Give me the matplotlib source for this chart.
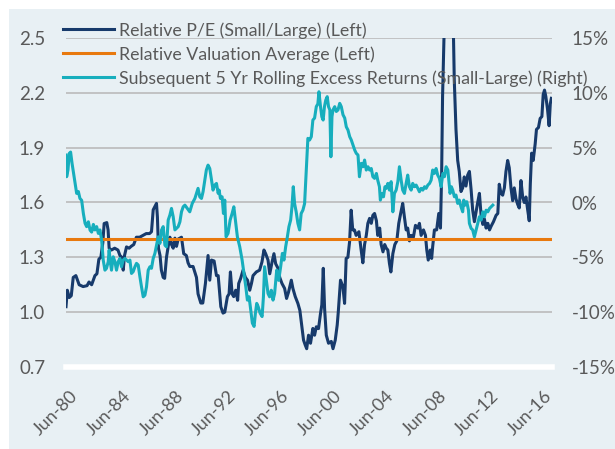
import numpy as np
import matplotlib
matplotlib.use('Agg')
import matplotlib.pyplot as plt
import matplotlib.transforms as mtransforms
from matplotlib.patches import Rectangle
from matplotlib.ticker import FuncFormatter

# 相对市盈率 (小盘/大盘), 左轴
pe_dates = [1980.5, 1980.6, 1980.75, 1980.9, 1981.05, 1981.25, 1981.5, 1981.8, 1982.1, 1982.25,
            1982.45, 1982.7, 1982.85, 1983.0, 1983.15, 1983.3, 1983.4, 1983.6, 1983.7, 1983.78,
            1983.95, 1984.2, 1984.45, 1984.6, 1984.75, 1984.85, 1984.95, 1985.1, 1985.3, 1985.45,
            1985.65, 1985.85, 1986.1, 1986.35, 1986.6, 1986.85, 1987.0, 1987.13, 1987.38, 1987.45,
            1987.53, 1987.65, 1987.75, 1987.89, 1988.0, 1988.14, 1988.27, 1988.4, 1988.52, 1988.65,
            1988.78, 1988.9, 1989.03, 1989.28, 1989.45, 1989.65, 1989.78, 1989.91, 1990.16, 1990.42,
            1990.54, 1990.75, 1990.9, 1991.1, 1991.3, 1991.43, 1991.56, 1991.76, 1991.94, 1992.07,
            1992.27, 1992.44, 1992.57, 1992.77, 1992.9, 1993.0, 1993.13, 1993.25, 1993.4, 1993.55,
            1993.63, 1993.78, 1993.96, 1994.14, 1994.3, 1994.47, 1994.6, 1994.72, 1994.97, 1995.22,
            1995.4, 1995.55, 1995.68, 1995.86, 1995.99, 1996.17, 1996.31, 1996.44, 1996.62, 1996.75,
            1996.92, 1997.12, 1997.27, 1997.42, 1997.63, 1997.75, 1997.93, 1998.13, 1998.28, 1998.43,
            1998.56, 1998.69, 1998.8, 1998.94, 1999.09, 1999.27, 1999.4, 1999.53, 1999.7, 1999.85,
            1999.95, 2000.06, 2000.16, 2000.29, 2000.46, 2000.67, 2000.8, 2000.97, 2001.12, 2001.2,
            2001.37, 2001.55, 2001.68, 2001.8, 2001.93, 2002.06, 2002.18, 2002.3, 2002.43, 2002.56,
            2002.77, 2002.94, 2003.07, 2003.2, 2003.33, 2003.45, 2003.58, 2003.71, 2003.83, 2003.96,
            2004.1, 2004.2, 2004.35, 2004.46, 2004.6, 2004.73, 2004.85, 2004.97, 2005.09, 2005.2,
            2005.35, 2005.5, 2005.65, 2005.8, 2005.97, 2006.1, 2006.23, 2006.36, 2006.48, 2006.61,
            2006.74, 2006.91, 2007.07, 2007.25, 2007.37, 2007.5, 2007.68, 2007.83, 2007.93, 2008.04,
            2008.19, 2008.3, 2008.38, 2008.51, 2008.68, 2008.84, 2008.97, 2009.06, 2009.13, 2009.27,
            2009.5, 2009.75, 2009.95, 2010.02, 2010.15, 2010.28, 2010.4, 2010.53, 2010.66, 2010.78,
            2010.91, 2011.04, 2011.17, 2011.3, 2011.42, 2011.55, 2011.68, 2011.8, 2011.93, 2012.06,
            2012.19, 2012.31, 2012.44, 2012.57, 2012.7, 2012.82, 2013.0, 2013.2, 2013.33, 2013.44,
            2013.57, 2013.7, 2013.83, 2013.95, 2014.08, 2014.2, 2014.33, 2014.46, 2014.58, 2014.71,
            2014.84, 2014.96, 2015.09, 2015.22, 2015.34, 2015.47, 2015.6, 2015.72, 2015.8, 2015.9,
            2016.02, 2016.17, 2016.27, 2016.42, 2016.55, 2016.68, 2016.78, 2016.88, 2016.98, 2017.11,
            2017.23, 2017.32, 2017.4]
pe_vals = [1.03, 1.12, 1.08, 1.09, 1.19, 1.20, 1.15, 1.14, 1.145, 1.165,
           1.15, 1.20, 1.21, 1.29, 1.30, 1.38, 1.485, 1.49, 1.45, 1.35,
           1.34, 1.35, 1.34, 1.31, 1.30, 1.23, 1.31, 1.357, 1.35, 1.36,
           1.37, 1.41, 1.41, 1.42, 1.43, 1.43, 1.44, 1.56, 1.595, 1.52,
           1.35, 1.31, 1.23, 1.19, 1.185, 1.30, 1.36, 1.41, 1.37, 1.35,
           1.405, 1.36, 1.40, 1.41, 1.32, 1.31, 1.27, 1.25, 1.25, 1.19,
           1.10, 1.05, 1.05, 1.157, 1.31, 1.175, 1.285, 1.28, 1.20, 1.20,
           1.03, 0.995, 1.00, 1.085, 1.10, 1.22, 1.10, 1.085, 1.12, 1.065,
           1.157, 1.185, 1.23, 1.19, 1.175, 1.12, 1.157, 1.20, 1.22, 1.23,
           1.275, 1.34, 1.32, 1.285, 1.21, 1.275, 1.32, 1.265, 1.24, 1.19,
           1.157, 1.13, 1.075, 1.11, 1.175, 1.13, 1.085, 1.048, 1.01, 0.92,
           0.847, 0.82, 0.80, 0.874, 0.83, 0.911, 0.874, 0.92, 0.91, 0.993,
           1.04, 1.24, 1.02, 0.874, 0.83, 0.84, 0.80, 0.847, 0.93, 1.0,
           1.175, 1.14, 1.048, 1.294, 1.30, 1.385, 1.558, 1.45, 1.45, 1.42,
           1.44, 1.34, 1.27, 1.37, 1.42, 1.486, 1.513, 1.486, 1.53, 1.54,
           1.50, 1.42, 1.46, 1.37, 1.33, 1.37, 1.35, 1.34, 1.267, 1.22,
           1.32, 1.37, 1.39, 1.486, 1.55, 1.595, 1.52, 1.45, 1.46, 1.39,
           1.42, 1.41, 1.475, 1.46, 1.486, 1.42, 1.45, 1.42, 1.34, 1.285,
           1.34, 1.294, 1.36, 1.45, 1.45, 1.54, 1.46, 1.76, 2.18, 2.60,
           2.85, 2.80, 2.55, 2.27, 2.0, 1.83, 1.77, 1.66, 1.68, 1.74,
           1.69, 1.75, 1.77, 1.67, 1.558, 1.495, 1.55, 1.60, 1.65, 1.53,
           1.48, 1.51, 1.46, 1.486, 1.45, 1.47, 1.495, 1.53, 1.54, 1.70,
           1.65, 1.64, 1.68, 1.77, 1.83, 1.79, 1.68, 1.61, 1.68, 1.62,
           1.59, 1.57, 1.72, 1.63, 1.60, 1.63, 1.56, 1.50, 1.70, 1.87,
           1.83, 1.92, 2.0, 2.01, 2.06, 2.07, 2.19, 2.215, 2.18, 2.11,
           2.02, 2.14, 2.17]
avg_val = 1.40

# 随后5年滚动超额收益 (%), 右轴
ret_dates = [1980.5, 1980.55, 1980.65, 1980.75, 1980.85, 1980.96, 1981.06, 1981.19, 1981.31, 1981.44,
             1981.56, 1981.69, 1981.82, 1981.95, 1982.07, 1982.2, 1982.33, 1982.45, 1982.58, 1982.7,
             1982.83, 1982.96, 1983.08, 1983.21, 1983.33, 1983.46, 1983.58, 1983.71, 1983.78, 1983.89,
             1983.96, 1984.09, 1984.22, 1984.34, 1984.47, 1984.6, 1984.72, 1984.85, 1984.98, 1985.1,
             1985.23, 1985.36, 1985.48, 1985.61, 1985.74, 1985.86, 1985.99, 1986.12, 1986.24, 1986.37,
             1986.5, 1986.62, 1986.75, 1986.88, 1987.0, 1987.13, 1987.26, 1987.38, 1987.51, 1987.64,
             1987.76, 1987.89, 1988.02, 1988.14, 1988.27, 1988.4, 1988.52, 1988.65, 1988.78, 1988.9,
             1989.03, 1989.16, 1989.28, 1989.41, 1989.54, 1989.72, 1989.91, 1990.1, 1990.3, 1990.42,
             1990.54, 1990.67, 1990.8, 1990.92, 1991.05, 1991.17, 1991.3, 1991.43, 1991.56, 1991.68,
             1991.81, 1991.94, 1992.07, 1992.14, 1992.24, 1992.37, 1992.47, 1992.57, 1992.67, 1992.82,
             1992.98, 1993.13, 1993.26, 1993.38, 1993.53, 1993.71, 1993.89, 1994.03, 1994.17, 1994.29,
             1994.42, 1994.55, 1994.67, 1994.8, 1994.9, 1995.0, 1995.11, 1995.26, 1995.41, 1995.51,
             1995.6, 1995.73, 1995.86, 1995.98, 1996.11, 1996.24, 1996.36, 1996.52, 1996.67, 1996.82,
             1996.95, 1997.07, 1997.2, 1997.33, 1997.45, 1997.58, 1997.68, 1997.78, 1997.88, 1998.0,
             1998.13, 1998.26, 1998.38, 1998.51, 1998.64, 1998.77, 1998.89, 1999.02, 1999.15, 1999.27,
             1999.4, 1999.53, 1999.65, 1999.73, 1999.85, 1999.95, 2000.05, 2000.15, 2000.25, 2000.36,
             2000.46, 2000.56, 2000.64, 2000.72, 2000.8, 2000.93, 2001.05, 2001.18, 2001.31, 2001.43,
             2001.56, 2001.69, 2001.81, 2001.94, 2002.07, 2002.19, 2002.32, 2002.45, 2002.57, 2002.7,
             2002.81, 2002.95, 2003.08, 2003.2, 2003.33, 2003.46, 2003.58, 2003.71, 2003.83, 2003.96,
             2004.1, 2004.2, 2004.33, 2004.4, 2004.54, 2004.64, 2004.75, 2004.85, 2004.97, 2005.09,
             2005.22, 2005.35, 2005.47, 2005.6, 2005.73, 2005.85, 2005.98, 2006.1, 2006.23, 2006.36,
             2006.48, 2006.61, 2006.74, 2006.86, 2006.99, 2007.12, 2007.25, 2007.37, 2007.5, 2007.63,
             2007.76, 2007.88, 2008.01, 2008.14, 2008.26, 2008.38, 2008.51, 2008.64, 2008.76, 2008.89,
             2009.02, 2009.15, 2009.27, 2009.4, 2009.53, 2009.6, 2009.7, 2009.8, 2009.9, 2010.03,
             2010.15, 2010.28, 2010.4, 2010.53, 2010.66, 2010.74, 2010.84, 2010.97, 2011.1, 2011.17,
             2011.3, 2011.42, 2011.55, 2011.68, 2011.8, 2011.93, 2012.06, 2012.19, 2012.31, 2012.44,
             2012.57, 2012.7, 2012.82, 2012.95]
ret_vals = [4.33, 2.35, 2.96, 4.48, 4.6, 3.57, 2.8, 1.74, 0.83, 1.0,
            0.37, 0.2, -1.0, -1.9, -2.2, -1.76, -2.52, -2.7, -2.0, -2.5,
            -2.2, -2.82, -2.5, -3.43, -5.25, -6.17, -6.0, -5.4, -4.34, -5.6,
            -6.17, -4.95, -5.4, -6.17, -5.4, -5.1, -5.86, -5.25, -5.1, -5.25,
            -5.4, -5.25, -6.47, -6.3, -5.86, -5.55, -5.7, -6.78, -7.69, -8.6,
            -8.45, -7.69, -6.17, -5.86, -6.0, -5.1, -4.64, -3.89, -3.13, -3.73,
            -2.52, -2.2, -3.89, -4.04, -1.6, -1.14, -0.54, -1.3, -2.5, -2.36,
            -2.2, -1.76, -0.85, -0.39, -0.24, -0.54, -0.85, -0.08, 0.37, 0.83,
            1.29, 0.52, 0.37, 0.98, 2.04, 2.96, 3.41, 3.1, 2.04, 1.13,
            1.59, 1.74, 0.83, 1.13, 0.37, 0.52, -1.0, 0.22, -3.13, -2.82,
            -1.6, -1.0, -0.39, -1.6, -3.13, -4.04, -5.25, -6.47, -7.69, -8.9,
            -8.6, -9.82, -11.0, -11.3, -10.1, -9.2, -9.5, -10.1, -10.4, -8.6,
            -5.86, -7.1, -8.3, -8.6, -8.0, -8.9, -8.3, -6.17, -7.1, -5.86,
            -4.64, -5.25, -4.04, -3.13, -2.2, -1.6, -0.39, 1.44, -0.1, -0.85,
            -1.9, -2.5, -1.0, -0.7, -0.1, 2.96, 5.85, 5.7, 6.0, 7.52,
            7.7, 8.74, 9.0, 10.1, 8.74, 7.82, 7.52, 8.74, 9.34, 9.65,
            8.74, 8.44, 4.17, 7.82, 8.44, 8.74, 8.3, 8.44, 9.04, 8.74,
            8.0, 7.7, 6.9, 6.6, 6.0, 5.7, 5.25, 4.78, 4.48, 4.33,
            2.35, 3.57, 3.26, 3.87, 2.96, 3.26, 2.96, 3.1, 2.35, 2.2,
            2.65, 2.04, 1.44, 0.22, 0.83, 0.52, 1.44, 1.29, 1.74, 1.13,
            1.9, -0.85, 0.83, 1.13, 1.9, 3.26, 2.04, 1.13, 0.83, 1.74,
            2.5, 1.44, 1.13, 1.74, 1.44, 1.59, 1.29, 0.98, 1.29, 1.13,
            1.44, 1.29, 1.59, 1.74, 2.04, 2.96, 2.65, 3.1, 2.5, 2.2,
            1.44, 2.65, 2.35, 3.26, 2.96, 2.04, 0.83, 1.44, 1.13, 0.52,
            0.68, -0.08, 0.22, -0.39, -0.85, 0.22, -0.24, 0.07, -0.7, -1.9,
            -2.36, -2.5, -3.13, -2.5, -1.9, -1.3, -1.6, -0.85, -1.3, -0.7,
            -0.85, -0.54, -0.39, -0.24]

# 坐标轴刻度
tick_years = [1980.5, 1984.5, 1988.5, 1992.5, 1996.5, 2000.5, 2004.5, 2008.5, 2012.5, 2016.5]
tick_labels = ['Jun-80', 'Jun-84', 'Jun-88', 'Jun-92', 'Jun-96', 'Jun-00', 'Jun-04', 'Jun-08', 'Jun-12', 'Jun-16']
left_ticks = [0.7, 1.0, 1.3, 1.6, 1.9, 2.2, 2.5]
right_ticks = [-15, -10, -5, 0, 5, 10, 15]

bg = '#e8f0f4'
navy = '#173a6b'
teal = '#17aebd'
orange = '#e8790e'
txt = '#595959'
plt.rcParams['font.family'] = ['Lato', 'DejaVu Sans']

fig = plt.figure(figsize=(6.15, 4.49), dpi=100)
# 背景色块, 左上留白边
fig.patches.append(Rectangle((9 / 615, 0), 1, 1 - 9 / 449, transform=fig.transFigure,
                             facecolor=bg, edgecolor='none', zorder=-10))

ax = fig.add_axes([66 / 615, 82 / 449, 486 / 615, 329 / 449])
ax.set_facecolor('none')
l1, = ax.plot(pe_dates, pe_vals, color=navy, lw=2.2, label='Relative P/E (Small/Large) (Left)', zorder=3)
l2, = ax.plot([tick_years[0], 2017.45], [avg_val, avg_val], color=orange, lw=2.2,
              label='Relative Valuation Average (Left)', zorder=4)
ax.set_xlim(1980.5, 2017.45)
ax.set_ylim(0.7, 2.5)
ax.set_yticks(left_ticks)
ax.yaxis.set_major_formatter(FuncFormatter(lambda v, p: '%.1f' % v))
ax.set_xticks(tick_years)
ax.set_xticklabels(tick_labels, rotation=45, ha='right', va='top', rotation_mode='anchor')
ax.tick_params(axis='x', length=0, pad=15, labelsize=13, labelcolor=txt)
ax.tick_params(axis='y', length=0, pad=15, labelsize=13.5, labelcolor=txt)
# x标签稍微右移
offset = mtransforms.ScaledTranslation(4 / 100, 0, fig.dpi_scale_trans)
for lab in ax.get_xticklabels():
    lab.set_transform(lab.get_transform() + offset)
ax.grid(axis='y', color='#bfbfbf', lw=1.3)
ax.set_axisbelow(True)
for s in ['top', 'left', 'right']:
    ax.spines[s].set_visible(False)
ax.spines['bottom'].set_color('white')
ax.spines['bottom'].set_linewidth(4)
ax.spines['bottom'].set_zorder(2)

ax2 = ax.twinx()
l3, = ax2.plot(ret_dates, ret_vals, color=teal, lw=2.2,
               label='Subsequent 5 Yr Rolling Excess Returns (Small-Large) (Right)', zorder=5)
ax2.set_ylim(-15, 15)
ax2.set_yticks(right_ticks)
ax2.yaxis.set_major_formatter(FuncFormatter(lambda v, p: '%d%%' % v))
ax2.tick_params(axis='y', length=0, pad=14, labelsize=13.5, labelcolor=txt)
for s in ax2.spines.values():
    s.set_visible(False)

leg = ax2.legend(handles=[l1, l2, l3], loc='upper left', bbox_to_anchor=(-0.02, 1.07),
                 frameon=False, fontsize=12.8, handlelength=2.85, handletextpad=0.3,
                 labelspacing=0.42, borderaxespad=0)
for t in leg.get_texts():
    t.set_color(txt)

fig.savefig('out.png', dpi=100)
